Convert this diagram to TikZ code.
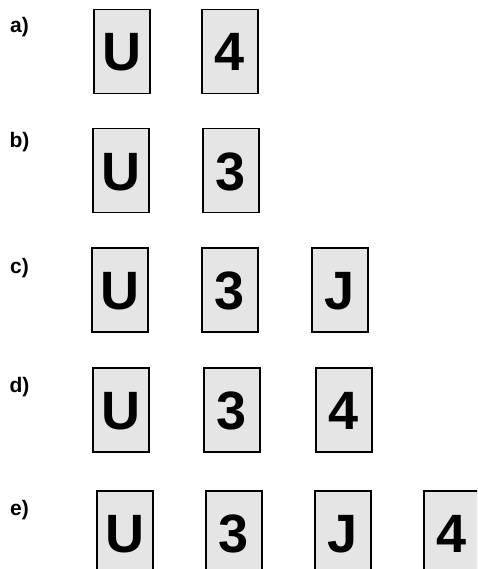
\documentclass[tikz,border=0pt]{standalone}
\usepackage{fontspec}
\setmainfont{Liberation Sans}
\begin{document}
\begin{tikzpicture}[x=1pt,y=-1pt,
  card/.style={draw=black, line width=1.6pt, fill=gray!20,
    minimum width=56pt, minimum height=84pt, inner sep=0pt},
  cardtext/.style={inner sep=0pt, text height=39pt, text depth=0pt,
    font=\fontsize{54}{54}\selectfont\bfseries},
  rowlabel/.style={inner sep=0pt, font=\fontsize{21}{21}\selectfont\bfseries}]
\useasboundingbox (0,0) rectangle (477,569);
\clip (0,0) rectangle (477,569);
% a)
\node[rowlabel] (la) at (19.5,27.5) {a)};
\node[card] (a1) at (122,51.5) {}; \node[cardtext] (ta1) at (a1) {U};
\node[card] (a2) at (230,51.5) {}; \node[cardtext] (ta2) at (a2) {4};
% b)
\node[rowlabel] (lb) at (19.5,142.5) {b)};
\node[card] (b1) at (121,170.5) {}; \node[cardtext] (tb1) at (b1) {U};
\node[card] (b2) at (231,170.5) {}; \node[cardtext] (tb2) at (b2) {3};
% c)
\node[rowlabel] (lc) at (19.5,268) {c)};
\node[card] (c1) at (120,290) {}; \node[cardtext] (tc1) at (c1) {U};
\node[card] (c2) at (230,290) {}; \node[cardtext] (tc2) at (c2) {3};
\node[card] (c3) at (340,290) {}; \node[cardtext] (tc3) at (c3) {J};
% d)
\node[rowlabel] (ld) at (19.5,387) {d)};
\node[card] (d1) at (121,410) {}; \node[cardtext] (td1) at (d1) {U};
\node[card] (d2) at (232,410) {}; \node[cardtext] (td2) at (d2) {3};
\node[card] (d3) at (344,410) {}; \node[cardtext] (td3) at (d3) {4};
% e)
\node[rowlabel] (le) at (19.5,510.5) {e)};
\node[card] (e1) at (125,533) {}; \node[cardtext] (te1) at (e1) {U};
\node[card] (e2) at (234,533) {}; \node[cardtext] (te2) at (e2) {3};
\node[card] (e3) at (343,533) {}; \node[cardtext] (te3) at (e3) {J};
\node[card] (e4) at (452,533) {}; \node[cardtext] (te4) at (e4) {4};
\end{tikzpicture}
\end{document}
